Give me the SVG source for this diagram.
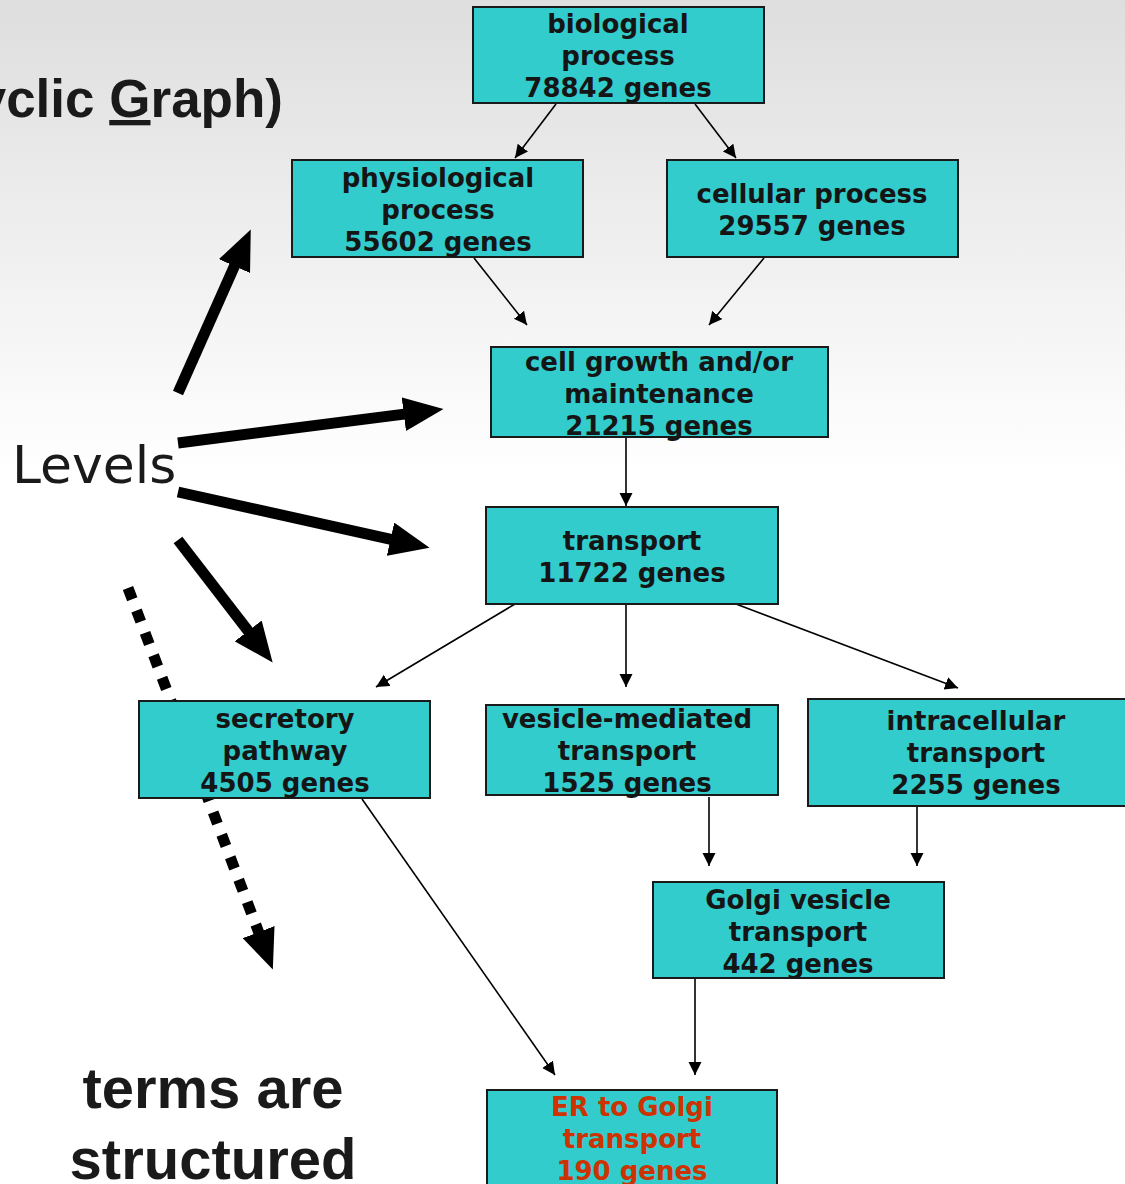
<svg xmlns="http://www.w3.org/2000/svg" width="1125" height="1184" viewBox="0 0 1125 1184">
<defs>
<linearGradient id="bg" x1="0" y1="0" x2="0" y2="1184" gradientUnits="userSpaceOnUse">
<stop offset="0" stop-color="#dedede"/>
<stop offset="0.4" stop-color="#ffffff"/>
<stop offset="1" stop-color="#ffffff"/>
</linearGradient>
<marker id="thin" markerUnits="userSpaceOnUse" markerWidth="14" markerHeight="14" refX="13" refY="6.5" orient="auto" viewBox="0 0 14 14">
<path d="M0,0 L13,6.5 L0,13 z" fill="#000"/>
</marker>
<marker id="thick" markerUnits="userSpaceOnUse" markerWidth="41" markerHeight="34" refX="0.5" refY="17" orient="auto" viewBox="0 0 41 34">
<path d="M0,0 L40,17 L0,34 z" fill="#000"/>
</marker>
</defs>
<style>
.box{fill:#33cccc;stroke:#1a1a1a;stroke-width:2}
.t{font-family:"DejaVu Sans",Verdana,sans-serif;font-weight:bold;font-size:26px;fill:#151515;text-anchor:middle}
.red{fill:#cc3300}
.c{stroke:#000;stroke-width:1.6;fill:none;marker-end:url(#thin)}
.big{stroke:#000;stroke-width:11;fill:none;marker-end:url(#thick)}
.h{font-family:"Liberation Sans",Arial,sans-serif;font-weight:bold;fill:#1a1a1a}
</style>
<rect x="0" y="0" width="1125" height="1184" fill="url(#bg)"/>

<text class="h" x="283" y="117" font-size="53" text-anchor="end">Acyclic <tspan text-decoration="underline">G</tspan>raph)</text>
<text x="12" y="483" font-family="DejaVu Sans,Verdana,sans-serif" font-size="52" fill="#1a1a1a">Levels</text>
<text class="h" x="213" y="1108" font-size="58" text-anchor="middle">terms are</text>
<text class="h" x="213" y="1179" font-size="58" text-anchor="middle">structured</text>

<g id="level-arrows">
<line class="big" x1="178" y1="393" x2="234.7" y2="265.6"/>
<line class="big" x1="178" y1="443" x2="404.3" y2="414.1"/>
<line class="big" x1="178" y1="492" x2="391" y2="539.3"/>
<line class="big" x1="178" y1="540" x2="248.5" y2="631.3"/>
<line class="big" x1="128" y1="588" x2="258.8" y2="932.6" stroke-dasharray="12 12"/>
</g>

<g id="connectors">
<line class="c" x1="556" y1="104" x2="515" y2="158"/>
<line class="c" x1="695" y1="104" x2="736" y2="158"/>
<line class="c" x1="474" y1="258" x2="527" y2="325"/>
<line class="c" x1="764" y1="258" x2="709" y2="325"/>
<line class="c" x1="626" y1="438" x2="626" y2="506"/>
<line class="c" x1="515" y1="604" x2="376" y2="687"/>
<line class="c" x1="626" y1="604" x2="626" y2="687"/>
<line class="c" x1="736" y1="604" x2="958" y2="688"/>
<line class="c" x1="709" y1="797" x2="709" y2="866"/>
<line class="c" x1="917" y1="807" x2="917" y2="866"/>
<line class="c" x1="695" y1="979" x2="695" y2="1075"/>
<line class="c" x1="362" y1="799" x2="555" y2="1075"/>
</g>

<g id="biological-process">
<rect class="box" x="473" y="7" width="291" height="96"/>
<text class="t" x="618" y="33">biological</text>
<text class="t" x="618" y="65">process</text>
<text class="t" x="618" y="97">78842 genes</text>
</g>
<g id="physiological-process">
<rect class="box" x="292" y="160" width="291" height="97"/>
<text class="t" x="438" y="187">physiological</text>
<text class="t" x="438" y="219">process</text>
<text class="t" x="438" y="251">55602 genes</text>
</g>
<g id="cellular-process">
<rect class="box" x="667" y="160" width="291" height="97"/>
<text class="t" x="812" y="203">cellular process</text>
<text class="t" x="812" y="235">29557 genes</text>
</g>
<g id="cell-growth">
<rect class="box" x="491" y="347" width="337" height="90"/>
<text class="t" x="659" y="371">cell growth and/or</text>
<text class="t" x="659" y="403">maintenance</text>
<text class="t" x="659" y="435">21215 genes</text>
</g>
<g id="transport">
<rect class="box" x="486" y="507" width="292" height="97"/>
<text class="t" x="632" y="550">transport</text>
<text class="t" x="632" y="582">11722 genes</text>
</g>
<g id="secretory-pathway">
<rect class="box" x="139" y="701" width="291" height="97"/>
<text class="t" x="285" y="728">secretory</text>
<text class="t" x="285" y="760">pathway</text>
<text class="t" x="285" y="792">4505 genes</text>
</g>
<g id="vesicle-mediated-transport">
<rect class="box" x="486" y="705" width="292" height="90"/>
<text class="t" x="627" y="728">vesicle-mediated</text>
<text class="t" x="627" y="760">transport</text>
<text class="t" x="627" y="792">1525 genes</text>
</g>
<g id="intracellular-transport">
<rect class="box" x="808" y="699" width="330" height="107"/>
<text class="t" x="976" y="730">intracellular</text>
<text class="t" x="976" y="762">transport</text>
<text class="t" x="976" y="794">2255 genes</text>
</g>
<g id="golgi-vesicle-transport">
<rect class="box" x="653" y="882" width="291" height="96"/>
<text class="t" x="798" y="909">Golgi vesicle</text>
<text class="t" x="798" y="941">transport</text>
<text class="t" x="798" y="973">442 genes</text>
</g>
<g id="er-to-golgi-transport">
<rect class="box" x="487" y="1090" width="290" height="110"/>
<text class="t red" x="632" y="1116">ER to Golgi</text>
<text class="t red" x="632" y="1148">transport</text>
<text class="t red" x="632" y="1180">190 genes</text>
</g>
</svg>
